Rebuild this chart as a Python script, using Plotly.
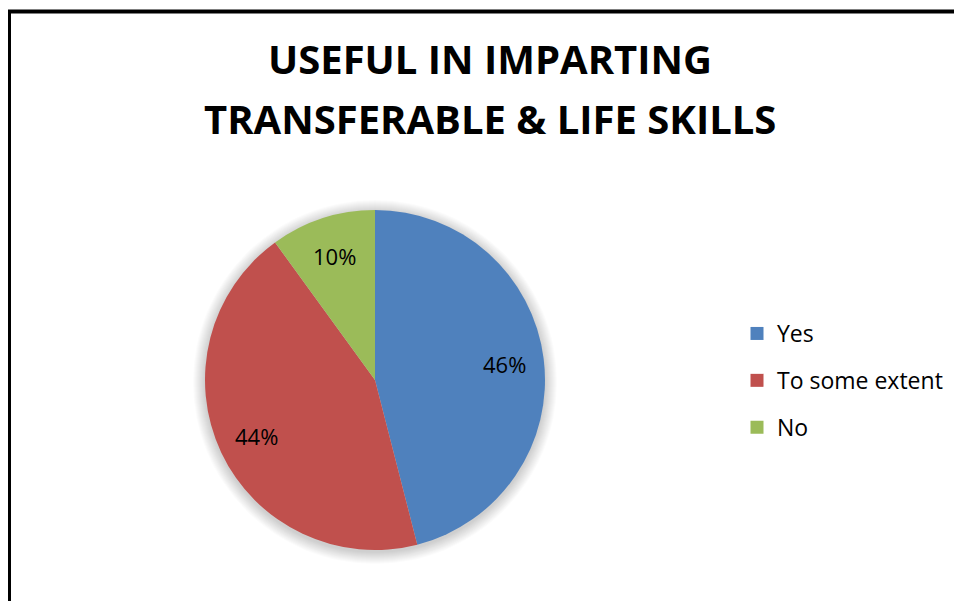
import math
import plotly.graph_objects as go

# Data
labels = ["Yes", "To some extent", "No"]
values = [46, 44, 10]
colors = ["#4F81BD", "#C0504D", "#9BBB59"]
title_lines = ["USEFUL IN IMPARTING", "TRANSFERABLE & LIFE SKILLS"]

W, H = 962, 601
FONT = "Open Sans, Liberation Sans, sans-serif"

# pie geometry in figure pixels (page has an 8px body margin)
CX, CY, R = 367, 372, 170
LABEL_K = 0.77


def px_x(x):
    return x / W


def px_y(y):
    return 1 - y / H


fig = go.Figure()

fig.add_trace(go.Pie(
    labels=labels, values=values,
    marker=dict(colors=colors, line=dict(width=0)),
    sort=False, direction="clockwise", rotation=0,
    textinfo="none",
    domain=dict(x=[px_x(CX - R), px_x(CX + R)], y=[px_y(CY + R), px_y(CY - R)]),
    showlegend=False,
    hovertemplate="%{label}: %{percent}<extra></extra>",
))

# legend via dummy traces so the row gap can be set
for i, (lab, col) in enumerate(zip(labels, colors)):
    fig.add_trace(go.Scatter(
        x=[None], y=[None], mode="markers", name=lab,
        marker=dict(symbol="square", size=13, color=col),
        legendgroup=f"g{i}", showlegend=True,
    ))

# percentage labels placed at the middle angle of each slice
total = sum(values)
annotations = []
cum = 0
for v in values:
    mid = (cum + v / 2) / total * 2 * math.pi
    cum += v
    lx = CX + LABEL_K * R * math.sin(mid)
    ly = CY - LABEL_K * R * math.cos(mid)
    annotations.append(dict(
        text=f"{round(v / total * 100)}%", x=px_x(lx), y=px_y(ly),
        xref="paper", yref="paper", xanchor="center", yanchor="middle",
        showarrow=False, font=dict(family=FONT, size=22, color="#000000"),
    ))

for line, base in zip(title_lines, [80, 140]):
    annotations.append(dict(
        text=f"<b>{line}</b>", x=px_x(482), y=px_y(base),
        xref="paper", yref="paper", xanchor="center", yanchor="bottom",
        showarrow=False, font=dict(family=FONT, size=40, color="#000000"),
    ))

# soft shadow behind the pie
shapes = []
for s in range(1, 13):
    rr = R + s
    shapes.append(dict(
        type="circle", xref="paper", yref="paper", layer="below",
        x0=px_x(CX - rr), x1=px_x(CX + rr),
        y0=px_y(CY + 2 + rr), y1=px_y(CY + 2 - rr),
        fillcolor="rgba(0,0,0,0.016)", line=dict(width=0),
    ))

shapes.append(dict(
    type="rect", xref="paper", yref="paper",
    x0=px_x(1), y0=-0.03, x1=1.03, y1=px_y(3.5),
    line=dict(color="#000000", width=4), fillcolor="rgba(0,0,0,0)",
))

fig.update_layout(
    width=W, height=H,
    margin=dict(l=0, r=0, t=0, b=0),
    paper_bgcolor="white", plot_bgcolor="rgba(0,0,0,0)",
    xaxis=dict(visible=False), yaxis=dict(visible=False),
    font=dict(family=FONT, color="#000000"),
    legend=dict(
        x=px_x(729), y=px_y(304), xanchor="left", yanchor="top",
        font=dict(family=FONT, size=23, color="#000000"),
        tracegroupgap=14, bgcolor="rgba(0,0,0,0)",
    ),
    shapes=shapes,
    annotations=annotations,
)

fig.write_html("out.html")
